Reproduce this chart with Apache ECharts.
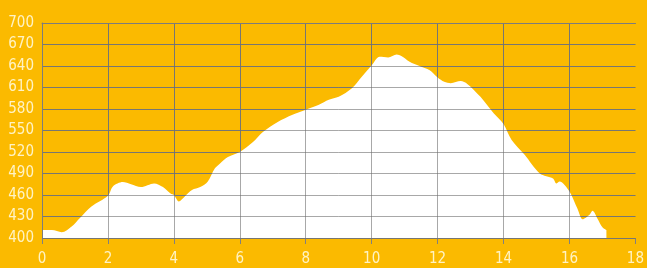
<!DOCTYPE html>
<html>
<head>
<meta charset="utf-8">
<script src="https://cdn.jsdelivr.net/npm/echarts@6/dist/echarts.min.js"></script>
<style>
  html, body { margin: 0; padding: 0; background: #fbba00; }
  #chart { width: 647px; height: 268px; }
</style>
</head>
<body>
<div id="chart"></div>
<script>
// distance (km) and elevation (m)
var km = [0, 0.3, 0.6, 0.9, 1.15, 1.5, 2, 2.15, 2.45, 2.7, 3.0, 3.4, 3.67, 3.9, 4.0, 4.15,
  4.33, 4.55, 4.8, 5.03, 5.24, 5.4, 5.64, 6, 6.4, 6.7, 7.15, 7.6, 8, 8.4, 8.7, 9.0, 9.4,
  9.7, 10, 10.24, 10.5, 10.76, 10.9, 11.15, 11.45, 11.76, 12, 12.2, 12.4, 12.7, 12.9,
  13.3, 13.7, 14, 14.24, 14.64, 15.1, 15.5, 15.6, 15.7, 16, 16.24, 16.4, 16.6, 16.7,
  16.85, 17.0, 17.12];
var elev = [411, 411, 408, 416, 428, 444, 459, 472, 478, 475, 471, 476, 471, 462, 460, 451,
  458, 467, 471, 479, 497, 504, 513, 520, 534, 548, 562, 572, 579, 586, 593, 597, 609,
  625, 641, 653, 652, 656, 654, 646, 640, 634, 624, 618, 616, 619, 615,
  597, 574, 559, 537, 516, 490, 483, 476, 479, 465, 441, 426, 432, 438,
  427, 415, 411];
var xTicks = { min: 0, max: 18, interval: 2 };
var yTicks = { min: 400, max: 700, interval: 30 };

var profile = km.map(function (d, i) { return [d, elev[i]]; });
var labelFont = "'DejaVu Sans Condensed', sans-serif";

var chart = echarts.init(document.getElementById("chart"));
chart.setOption({
  backgroundColor: "#fbba00",
  animation: false,
  grid: { left: 42, right: 10, top: 23, bottom: 30 },
  xAxis: [
    {
      // base grid, under the white area
      type: "value",
      min: xTicks.min, max: xTicks.max, interval: xTicks.interval,
      axisLine: { show: false },
      axisTick: { show: true, length: 6, lineStyle: { color: "#808080" } },
      axisLabel: {
        color: "#fff3c4", fontFamily: labelFont, fontSize: 15, margin: 14
      },
      splitLine: { show: true, showMaxLine: false, lineStyle: { color: "#858279", width: 1 } }
    },
    {
      // same grid again, drawn over the area (lighter on white)
      type: "value",
      min: xTicks.min, max: xTicks.max, interval: xTicks.interval,
      z: 5,
      axisLine: { show: true, onZero: false, lineStyle: { color: "#7c7c7c", width: 1 } },
      axisTick: { show: false },
      axisLabel: { show: false },
      splitLine: { show: true, showMaxLine: false, lineStyle: { color: "rgba(110,110,110,0.6)", width: 1 } }
    }
  ],
  yAxis: [
    {
      type: "value",
      min: yTicks.min, max: yTicks.max, interval: yTicks.interval,
      axisLine: { show: false },
      axisTick: { show: false },
      axisLabel: {
        color: "#fff3c4", fontFamily: labelFont, fontSize: 15, margin: 8,
        padding: [0, 0, 8, 0]
      },
      splitLine: { show: true, lineStyle: { color: "#858279", width: 1 } }
    },
    {
      type: "value",
      min: yTicks.min, max: yTicks.max, interval: yTicks.interval,
      z: 5,
      axisLine: { show: true, lineStyle: { color: "#7c7c7c", width: 1 } },
      axisTick: { show: false },
      axisLabel: { show: false },
      splitLine: { show: true, lineStyle: { color: "rgba(110,110,110,0.6)", width: 1 } }
    }
  ],
  series: [
    {
      type: "line",
      data: profile,
      smooth: 0.3,
      showSymbol: false,
      lineStyle: { width: 0 },
      areaStyle: { color: "#ffffff", opacity: 1 }
    }
  ]
});
</script>
</body>
</html>
